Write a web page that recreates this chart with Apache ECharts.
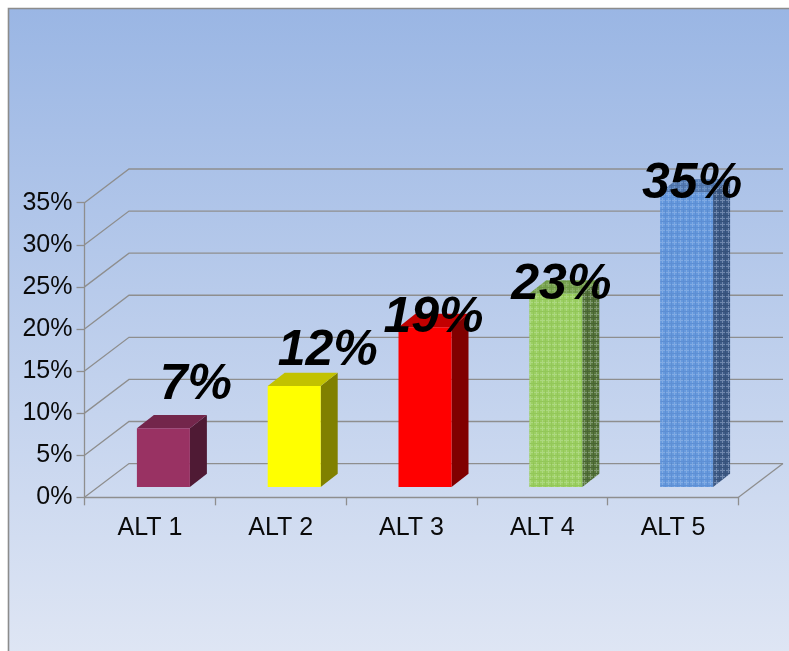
<!DOCTYPE html>
<html>
<head>
<meta charset="utf-8">
<style>
html, body { margin: 0; padding: 0; background: #fff; }
#main { width: 789px; height: 651px; }
</style>
<script src="https://cdn.jsdelivr.net/npm/echarts@6/dist/echarts.min.js"></script>
</head>
<body>
<div id="main"></div>
<script>
const categories = ['ALT 1', 'ALT 2', 'ALT 3', 'ALT 4', 'ALT 5'];
const shares = [7, 12, 19, 23, 35];
const gridTicks = [0, 5, 10, 15, 20, 25, 30, 35];

// small woven tile for the two textured bars
function weave(base, light, dark) {
    const c = document.createElement('canvas');
    c.width = c.height = 6;
    const g = c.getContext('2d');
    g.fillStyle = base;
    g.fillRect(0, 0, 6, 6);
    g.fillStyle = light;
    g.fillRect(0, 2, 6, 1);
    g.fillRect(2, 0, 1, 6);
    g.fillStyle = dark;
    g.fillRect(5, 0, 1, 6);
    g.fillRect(0, 5, 6, 1);
    return c;
}
const pat = (base, light, dark) => ({ image: weave(base, light, dark), repeat: 'repeat' });

// front, top, side of each bar
const faces = [
    { front: '#993263', top: '#73264b', side: '#4f1a34' },
    { front: '#ffff00', top: '#c2c200', side: '#808000' },
    { front: '#ff0000', top: '#c20000', side: '#800000' },
    { front: pat('#99cf58', '#abd978', '#8fc64e'), top: pat('#74a044', '#86ae5e', '#689639'), side: pat('#4f6f2e', '#7a9466', '#3f5c25'), opacity: 0.93 },
    { front: pat('#5f95dc', '#7ca8e3', '#568ad2'), top: pat('#4e77b2', '#6a90c3', '#44699f'), side: pat('#34527f', '#6a82a8', '#2c4872'), opacity: 0.93 }
];

// the wall depth of the chart and how far into it the bars stand
const depthX = 44.5, depthY = 33.7;
const barInX = 13.5, barInY = 10.2, barDepthX = 17, barDepthY = 13.3;
const barWidth = 53;
// labels do not sit centred over the bars in the original
const labelShift = [[32.5, -28], [33.5, -20], [8.5, 6], [5.5, 7], [5.5, 7]];
const gridColor = '#8e8e8e';

function renderWall(params, api) {
    const cs = params.coordSys;
    const y = api.coord([0, api.value(0)])[1];
    const left = cs.x, right = cs.x + cs.width;
    const children = [{
        type: 'polyline',
        shape: { points: [[left, y], [left + depthX, y - depthY], [right + depthX, y - depthY]] },
        style: { stroke: gridColor, lineWidth: 1.3, fill: null }
    }];
    if (api.value(0) === 0) {
        children.push({
            type: 'line',
            shape: { x1: right, y1: y, x2: right + depthX, y2: y - depthY },
            style: { stroke: gridColor, lineWidth: 1.3 }
        });
    }
    return { type: 'group', children };
}

function renderBar(params, api) {
    const i = api.value(0);
    const base = api.coord([i, 0]);
    const head = api.coord([i, api.value(1)]);
    const xl = base[0] + barInX - barWidth / 2;
    const xr = xl + barWidth;
    const yb = base[1] - barInY;
    const yt = head[1] - barInY;
    const face = faces[i];
    const op = face.opacity || 1;
    const dx = barDepthX, dy = barDepthY;
    return {
        type: 'group',
        children: [
            { type: 'polygon', shape: { points: [[xr, yb], [xr + dx, yb - dy], [xr + dx, yt - dy], [xr, yt]] }, style: { fill: face.side, opacity: op } },
            { type: 'polygon', shape: { points: [[xl, yt], [xr, yt], [xr + dx, yt - dy], [xl + dx, yt - dy]] }, style: { fill: face.top, opacity: op } },
            { type: 'rect', shape: { x: xl, y: yt, width: barWidth, height: yb - yt }, style: { fill: face.front, opacity: op } }
        ]
    };
}

function renderLabel(params, api) {
    const i = api.value(0);
    const p = api.coord([i, api.value(1)]);
    return {
        type: 'text',
        style: {
            text: api.value(1) + '%',
            x: p[0] + barInX + labelShift[i][0],
            y: p[1] + labelShift[i][1],
            align: 'center',
            verticalAlign: 'bottom',
            fill: '#000',
            font: 'italic bold 50px "Liberation Sans", Arial, sans-serif'
        }
    };
}

const axisFont = { color: '#0a0a0a', fontFamily: '"Liberation Sans", Arial, sans-serif' };
const axisStroke = { color: gridColor, width: 1.3 };

const chart = echarts.init(document.getElementById('main'), null, { renderer: 'canvas' });
chart.setOption({
    backgroundColor: '#fff',
    animation: false,
    graphic: [{
        type: 'rect',
        z: -10,
        silent: true,
        shape: { x: 8.5, y: 8.5, width: 790, height: 650 },
        style: {
            fill: new echarts.graphic.LinearGradient(0, 0, 0, 1, [
                { offset: 0, color: '#9ab6e4' },
                { offset: 1, color: '#dfe6f4' }
            ]),
            stroke: '#8c8c8c',
            lineWidth: 1.6
        }
    }],
    grid: { left: 84.5, top: 202.7, width: 654, height: 294.6, containLabel: false },
    xAxis: {
        type: 'category',
        data: categories,
        axisLine: { lineStyle: axisStroke },
        axisTick: { show: true, length: 8, alignWithLabel: false, lineStyle: axisStroke },
        axisLabel: { ...axisFont, fontSize: 25, margin: 18 }
    },
    yAxis: {
        type: 'value',
        min: 0,
        max: 35,
        interval: 5,
        axisLine: { show: true, lineStyle: axisStroke },
        axisTick: { show: true, length: 8, lineStyle: axisStroke },
        splitLine: { show: false },
        axisLabel: { ...axisFont, fontSize: 25, margin: 12, padding: [3, 0, 0, 0], formatter: '{value}%' }
    },
    series: [
        { type: 'custom', name: 'walls', z: 1, data: gridTicks.map(t => [t]), encode: { y: 0 }, renderItem: renderWall, silent: true, clip: false },
        { type: 'custom', name: 'bars', z: 2, data: shares.map((v, i) => [i, v]), encode: { x: 0, y: 1 }, renderItem: renderBar, clip: false },
        { type: 'custom', name: 'labels', z: 3, data: shares.map((v, i) => [i, v]), encode: { x: 0, y: 1 }, renderItem: renderLabel, clip: false }
    ]
});
</script>
</body>
</html>
